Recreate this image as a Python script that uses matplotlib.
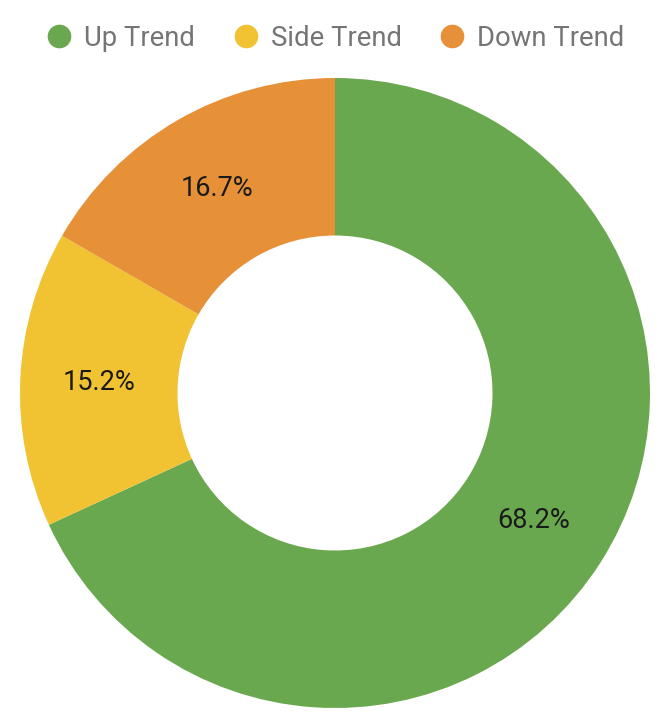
import matplotlib
matplotlib.use("Agg")
import matplotlib.pyplot as plt
from matplotlib.lines import Line2D

categories = ["Up Trend", "Side Trend", "Down Trend"]
values = [68.2, 15.2, 16.7]
colors = ["#6aa84f", "#f1c232", "#e69138"]

plt.rcParams['font.family'] = ['Roboto', 'DejaVu Sans']

W, H = 668, 724
fig = plt.figure(figsize=(W / 100, H / 100), dpi=100)
cx, cy, R = 335, 393, 315
ax = fig.add_axes([(cx - R) / W, (H - cy - R) / H, 2 * R / W, 2 * R / H])

wedges, texts, autotexts = ax.pie(
    values, colors=colors, startangle=90, counterclock=False,
    radius=1.0, autopct='%1.1f%%', pctdistance=0.75,
    wedgeprops=dict(width=0.5, edgecolor='none'),
    textprops=dict(fontsize=19.5, color='#1a1a1a'))
for t, v in zip(autotexts, values):
    t.set_text(f"{v:.1f}%")
ax.set_xlim(-1, 1)
ax.set_ylim(-1, 1)
ax.set_aspect('equal')
ax.axis('off')

handles = [Line2D([0], [0], marker='o', linestyle='none', markersize=16,
                  markerfacecolor=c, markeredgecolor=c) for c in colors]
leg = fig.legend(handles, categories, loc='center', bbox_to_anchor=(cx / W, 1 - 38 / H),
                 ncol=3, frameon=False, fontsize=19.8, handletextpad=0.4,
                 columnspacing=1.35, handlelength=1.0, borderpad=0)
for t in leg.get_texts():
    t.set_color('#757575')

fig.savefig("out.png", dpi=100)
